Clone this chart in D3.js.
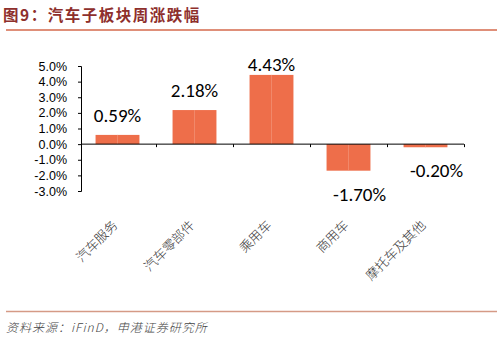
<!DOCTYPE html>
<html>
<head>
<meta charset="utf-8">
<script src="https://cdn.jsdelivr.net/npm/d3@7"></script>
<style>
  html, body { margin: 0; padding: 0; background: #fff; }
  svg { display: block; }
</style>
</head>
<body>
<div id="chart"></div>
<script>
// 汽车子板块周涨跌幅
const categories = ["汽车服务", "汽车零部件", "乘用车", "商用车", "摩托车及其他"];
const values = [0.59, 2.18, 4.43, -1.7, -0.2];
const yTicks = [5, 4, 3, 2, 1, 0, -1, -2, -3];

const W = 503, H = 341;
const CJK = "'Noto Sans CJK SC', sans-serif";
const LATIN = "'Liberation Sans', Arial, sans-serif";
const BAR = "#ee6e4a";

const svg = d3.select("#chart").append("svg").attr("width", W).attr("height", H);

// 标题
svg.append("text")
  .attr("x", 3).attr("y", 21)
  .attr("fill", "#8e2f2c")
  .attr("font-family", CJK)
  .attr("font-weight", 700)
  .attr("font-size", 15.5)
  .attr("letter-spacing", 1.5)
  .text("图9：汽车子板块周涨跌幅");
svg.append("line")
  .attr("x1", 6).attr("x2", 497).attr("y1", 30).attr("y2", 30)
  .attr("stroke", "#d46a4c").attr("stroke-width", 1.5);

const x = d3.scaleBand().domain(categories).range([79, 464]).paddingInner(0.43).paddingOuter(0.215);
const y = d3.scaleLinear().domain([-3, 5]).range([191, 66]);

// y 轴
const yAxis = d3.axisLeft(y).tickValues(yTicks).tickSize(3).tickFormat((d) => d.toFixed(1) + "%");
const gy = svg.append("g").attr("transform", "translate(81,0)").call(yAxis);
gy.select(".domain").attr("stroke", "#000").attr("d", "M-3,66.5H0.5V191.5H-3");
gy.selectAll(".tick line").attr("stroke", "#000");
gy.selectAll(".tick text")
  .attr("x", -14)
  .attr("font-family", LATIN)
  .attr("font-size", 12.5)
  .attr("fill", "#000");

// 柱
svg.selectAll("rect.bar")
  .data(values)
  .join("rect")
  .attr("class", "bar")
  .attr("x", (d, i) => x(categories[i]))
  .attr("width", x.bandwidth())
  .attr("y", (d) => y(Math.max(0, d)))
  .attr("height", (d) => Math.abs(y(d) - y(0)))
  .attr("fill", BAR);

// 柱中间的浅色细线
svg.selectAll("line.mid")
  .data(values)
  .join("line")
  .attr("class", "mid")
  .attr("x1", (d, i) => x(categories[i]) + x.bandwidth() / 2)
  .attr("x2", (d, i) => x(categories[i]) + x.bandwidth() / 2)
  .attr("y1", (d) => y(Math.max(0, d)))
  .attr("y2", (d) => y(Math.min(0, d)))
  .attr("stroke", "#f39a80")
  .attr("stroke-width", 0.6);

// 零线和分类刻度
const x0 = d3.scaleLinear().domain([0, categories.length]).range([79, 464]);
svg.append("line")
  .attr("x1", 81).attr("x2", 464).attr("y1", y(0)).attr("y2", y(0))
  .attr("stroke", "#000");
svg.selectAll("line.ctick")
  .data(d3.range(1, categories.length + 1))
  .join("line")
  .attr("class", "ctick")
  .attr("x1", (d) => Math.round(x0(d)) + 0.5)
  .attr("x2", (d) => Math.round(x0(d)) + 0.5)
  .attr("y1", y(0))
  .attr("y2", y(0) + 3)
  .attr("stroke", "#000");

// 数据标签
svg.selectAll("text.val")
  .data(values)
  .join("text")
  .attr("class", "val")
  .attr("x", (d, i) => x(categories[i]) + x.bandwidth() / 2 + (d < 0 ? 11 : 0))
  .attr("y", (d) => (d >= 0 ? Math.max(71, y(d) - 13) : y(d) + 30))
  .attr("text-anchor", "middle")
  .attr("font-family", "Carlito, Calibri, 'Open Sans', sans-serif")
  .attr("font-size", 19)
  .attr("fill", "#000")
  .text((d) => d.toFixed(2) + "%");

// 分类标签
svg.selectAll("text.cat")
  .data(categories)
  .join("text")
  .attr("class", "cat")
  .attr("transform", (d) => `translate(${x(d) + x.bandwidth() / 2 + 1},${226}) rotate(-45)`)
  .attr("text-anchor", "end")
  .attr("font-family", CJK)
  .attr("font-weight", 300)
  .attr("font-size", 13)
  .attr("fill", "#333")
  .text((d) => d);

// 来源
svg.append("line")
  .attr("x1", 6).attr("x2", 497).attr("y1", 311.5).attr("y2", 311.5)
  .attr("stroke", "#d59a86").attr("stroke-width", 1.5);
svg.append("text")
  .attr("x", 6).attr("y", 332)
  .attr("font-family", CJK)
  .attr("font-style", "italic")
  .attr("font-weight", 300)
  .attr("font-size", 12)
  .attr("fill", "#444")
  .attr("letter-spacing", 1)
  .text("资料来源：iFinD，申港证券研究所");
</script>
</body>
</html>
